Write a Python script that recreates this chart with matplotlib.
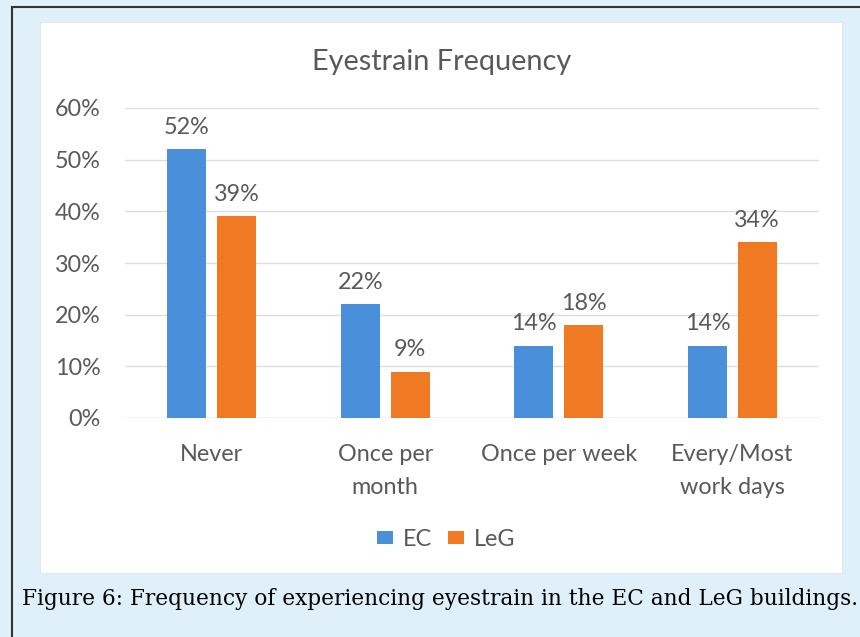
import numpy as np
import matplotlib
matplotlib.use('Agg')
import matplotlib.pyplot as plt
from matplotlib.patches import Rectangle
from matplotlib.lines import Line2D

# Data
categories = ['Never', 'Once per\nmonth', 'Once per week', 'Every/Most\nwork days']
ec_values = [0.52, 0.22, 0.14, 0.14]
leg_values = [0.39, 0.09, 0.18, 0.34]
series_names = ['EC', 'LeG']
y_ticks = [0, 0.1, 0.2, 0.3, 0.4, 0.5, 0.6]

BLUE = '#4a8fd9'
ORANGE = '#f07a24'
TEXT = '#595959'
GRID = '#dedede'
PAGE = '#dff0fa'
FS = 16.8

W, H = 860, 637
fig = plt.figure(figsize=(W / 100, H / 100), dpi=100)
fig.patch.set_facecolor(PAGE)

# white chart panel and page frame
fig.patches.append(Rectangle((40 / W, 1 - 573 / H), 802 / W, 551 / H,
                             transform=fig.transFigure, facecolor='white',
                             edgecolor='#e6e6e6', linewidth=0.8, zorder=-10))
fig.lines.append(Line2D([12 / W, 1], [1 - 7 / H] * 2, transform=fig.transFigure,
                        color='#333333', linewidth=1.5))
fig.lines.append(Line2D([12 / W] * 2, [0, 1 - 7 / H], transform=fig.transFigure,
                        color='#333333', linewidth=1.5))

font = ['Lato', 'DejaVu Sans']
ax = fig.add_axes([125 / W, 219 / H, 694 / W, 310 / H])
ax.set_facecolor('none')

x = np.arange(len(categories))
width = 0.225
off = 0.143
b1 = ax.bar(x - off, ec_values, width, color=BLUE, label=series_names[0], zorder=3)
b2 = ax.bar(x + off, leg_values, width, color=ORANGE, label=series_names[1], zorder=3)

for bars, vals in ((b1, ec_values), (b2, leg_values)):
    for b, v in zip(bars, vals):
        ax.text(b.get_x() + b.get_width() / 2, v + 0.022, f'{v:.0%}',
                ha='center', va='bottom', fontsize=FS, color=TEXT, family=font)

ax.set_xlim(-0.5, len(categories) - 0.5)
ax.set_ylim(0, 0.6)
ax.set_yticks(y_ticks)
ax.set_yticklabels([f'{t:.0%}' for t in y_ticks], fontsize=FS, color=TEXT, family=font)
ax.set_xticks(x)
ax.set_xticklabels(categories, fontsize=FS, color=TEXT, family=font, linespacing=1.75)
ax.tick_params(length=0)
ax.tick_params(axis='y', pad=17.5)
ax.tick_params(axis='x', pad=18.5)
ax.yaxis.grid(True, color=GRID, linewidth=1)
ax.set_axisbelow(True)
for s in ax.spines.values():
    s.set_visible(False)
ax.axhline(0, color=GRID, linewidth=1, zorder=2)

fig.text(442 / W, 1 - 62 / H, 'Eyestrain Frequency', ha='center', va='center',
         fontsize=20.8, color=TEXT, family=font)

fig.legend(handles=[b1, b2], labels=series_names, loc='center',
           bbox_to_anchor=(446 / W, 1 - 539 / H), ncol=2, frameon=False,
           prop={'family': 'Lato', 'size': FS}, labelcolor=TEXT,
           handlelength=0.7, handleheight=0.5, handletextpad=0.4, columnspacing=0.7)

fig.text(22 / W, 1 - 599 / H,
         'Figure 6: Frequency of experiencing eyestrain in the EC and LeG buildings.',
         ha='left', va='center', fontsize=15.6, color='black', family='DejaVu Serif')

fig.savefig('out.png', dpi=100, facecolor=PAGE)
